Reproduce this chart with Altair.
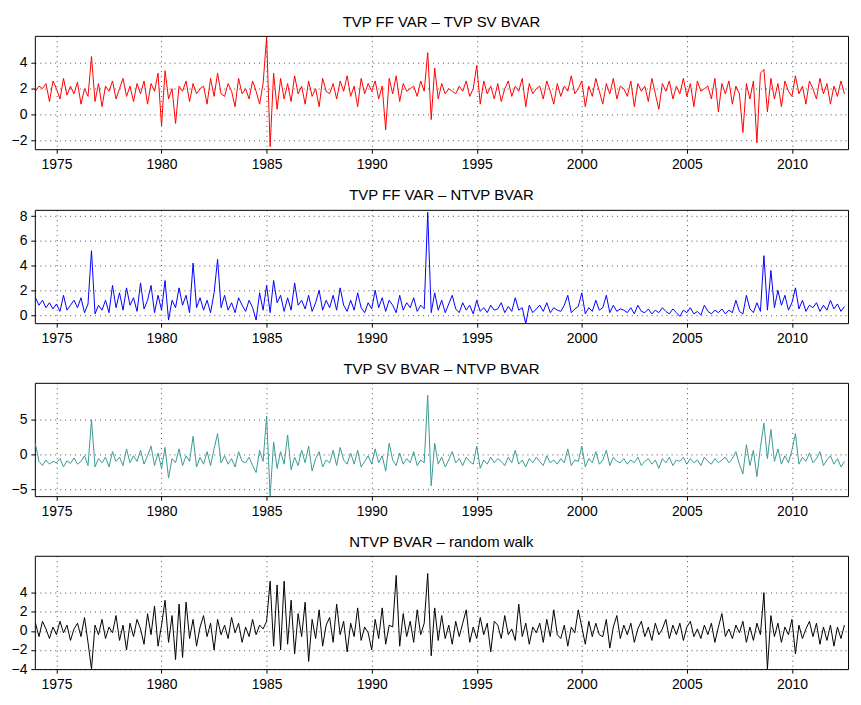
import altair as alt
import pandas as pd

years = list(range(1974, 2013))

# two-monthly readings, 6 per year (2012 has 4)
ff_sv = [
    1.8,2.2,2.0,2.4,1.0,2.6, 2.0,1.2,2.8,1.5,2.2,1.6, 2.5,0.8,2.0,1.4,4.5,1.0,
    2.4,0.6,2.2,1.8,2.6,1.2, 2.0,2.8,1.4,2.2,1.0,2.4, 1.6,2.6,0.8,2.4,1.8,3.2,
    -0.9,3.4,1.2,2.0,-0.7,2.2, 1.8,2.6,1.0,2.4,1.6,2.0, 2.2,0.8,2.8,1.4,3.2,1.6,
    1.4,2.4,1.8,0.6,2.8,1.6, 2.0,1.2,2.6,1.8,0.8,2.4, 6.0,-2.5,3.2,0.4,2.8,1.2,
    2.4,1.0,3.0,1.6,2.2,0.8, 2.6,1.4,2.0,0.6,2.8,1.8, 1.6,2.4,1.2,2.6,1.8,3.0,
    1.4,2.2,0.6,2.8,1.6,2.4, 1.8,2.6,1.2,2.2,-1.2,2.8, 1.6,3.0,1.0,2.4,1.8,2.0,
    2.2,1.4,2.6,1.8,4.8,-0.4, 3.6,1.2,2.4,1.6,2.0,1.8, 1.6,2.2,1.8,2.6,1.4,2.0,
    3.8,0.8,2.6,1.6,2.2,1.2, 2.4,1.0,2.0,2.6,1.4,2.2, 1.8,2.8,0.6,2.4,1.6,2.0,
    2.2,1.2,2.6,1.8,0.8,2.4, 1.4,2.2,1.8,3.0,1.6,2.0, 2.6,0.6,2.2,1.4,2.8,1.8,
    0.8,2.4,1.6,2.8,1.2,2.2, 2.0,1.4,2.6,0.6,2.4,1.8, 2.2,1.0,2.8,1.6,0.4,2.4,
    1.8,2.6,1.2,2.2,1.6,2.8, 1.4,2.4,0.6,2.6,1.8,2.0, 2.2,1.2,2.8,0.2,2.4,1.6,
    2.6,0.8,2.2,1.6,-1.4,2.4, 1.2,2.6,-2.2,3.2,3.5,0.2, 2.8,1.2,2.4,0.6,2.6,1.8,
    1.4,3.0,1.6,2.2,0.8,2.6, 2.0,1.2,2.8,1.6,2.4,0.8, 2.2,1.4,2.6,1.6,
]
ff_ntvp = [
    1.4,0.8,1.2,0.6,1.0,0.5, 0.9,0.3,1.6,0.4,0.8,1.2, 0.6,1.4,0.2,0.9,5.2,0.1,
    0.8,0.4,1.2,0.2,2.4,0.6, 1.8,0.4,2.2,0.8,1.4,0.3, 2.6,0.5,1.2,2.4,0.2,1.6,
    0.4,2.8,-0.4,1.2,0.6,2.2, 0.8,1.6,0.2,4.2,0.6,1.4, 0.4,1.2,0.2,1.8,4.5,0.6,
    1.6,0.4,1.0,0.2,1.4,0.8, 0.3,1.2,0.6,-0.4,1.8,0.4, 2.4,0.2,2.8,1.0,1.6,0.3,
    1.4,0.4,2.6,0.8,1.2,0.5, 1.6,0.3,1.0,2.0,0.4,1.2, 0.6,1.6,0.4,2.2,0.8,0.3,
    1.2,0.4,1.8,0.6,0.2,1.0, 0.5,2.0,0.6,1.4,0.3,1.2, 0.8,0.2,1.6,0.4,1.0,0.6,
    1.4,0.3,0.8,0.5,8.3,0.2, 1.8,0.4,1.2,0.2,0.9,1.6, 0.5,0.2,1.0,0.4,0.8,0.1,
    1.2,0.3,0.6,0.2,0.8,0.4, 0.5,1.0,0.2,0.7,0.3,1.4, 0.4,0.6,-0.7,0.8,0.2,0.5,
    0.8,0.3,1.0,0.2,0.6,0.4, 0.3,0.8,1.6,0.2,0.5,0.7, 1.8,0.1,0.6,0.3,1.2,0.4,
    0.6,1.6,0.2,0.8,0.3,0.5, 0.4,0.2,0.6,0.1,0.8,0.3, 0.2,0.5,0.1,0.4,0.2,0.6,
    0.3,0.1,0.5,0.2,-0.1,0.4, 0.2,0.6,0.1,0.3,0.0,0.8, 0.3,0.1,0.4,0.2,0.5,0.1,
    0.4,0.2,1.2,0.3,0.1,1.6, 0.5,0.2,1.0,0.3,4.8,0.4, 3.6,0.6,2.0,0.8,1.6,0.4,
    1.0,2.2,0.5,1.2,0.3,0.8, 0.6,1.0,0.3,0.8,0.4,1.2, 0.5,0.9,0.3,0.7,
]
sv_ntvp = [
    1.5,-1.0,-1.6,-0.8,-1.4,-1.0, -1.2,-0.6,-1.8,-0.9,-1.3,-0.5, -1.4,-1.0,-0.2,-1.6,5.0,-1.8,
    -0.6,-1.2,-0.4,-1.8,0.4,-1.0, -0.4,-1.6,0.8,-1.2,-0.2,-1.0, 0.6,-1.4,-0.2,1.2,-1.6,0.2,
    -2.0,1.0,-3.4,-0.6,-1.2,0.8, -1.6,-0.2,-1.0,2.6,-1.8,-0.4, -1.4,0.4,-1.6,0.8,3.0,-1.2,
    -0.2,-1.4,-0.6,-1.8,0.4,-1.0, -1.2,-0.4,-1.6,-2.6,0.6,-1.0, 5.5,-6.0,1.8,-2.0,0.4,-1.4,
    2.8,-2.2,-0.4,-1.6,0.6,-1.2, 1.2,-2.4,-0.6,0.4,-1.8,-0.8, -1.2,0.6,-1.6,1.0,-0.8,-1.4,
    0.2,-1.4,0.6,-1.8,-1.0,-0.2, -1.4,0.8,-1.2,-0.2,-2.4,1.6, -0.8,-1.6,0.2,-1.4,-0.6,-1.2,
    0.4,-1.6,-0.8,-1.2,8.5,-4.5, 1.6,-1.4,-0.4,-1.8,-0.8,0.4, -1.2,-0.6,-1.6,-0.4,-1.0,-1.4,
    1.2,-2.0,-0.8,-1.4,-0.4,-1.2, -0.6,-1.0,-1.6,-0.4,-1.2,0.6, -1.4,-0.8,-1.8,-0.6,-1.2,-0.4,
    -1.0,-1.6,-0.2,-1.2,-0.8,-1.4, -0.6,-1.2,0.8,-1.6,-0.8,-1.0, 1.2,-1.8,-0.6,-1.2,0.4,-1.4,
    -0.8,0.6,-1.6,-0.4,-1.0,-1.2, -0.6,-1.4,-0.8,-1.2,-0.4,-1.6, -1.0,-0.6,-1.4,-0.8,-2.0,-0.6,
    -1.2,-0.4,-1.6,-0.8,-1.0,-0.4, -1.4,-0.6,-1.2,-0.8,-1.6,-0.4, -1.0,-1.4,-0.6,-1.2,-0.8,-0.4,
    -1.2,-0.6,0.4,-1.4,-2.8,1.4, -1.6,0.6,-3.2,1.0,4.5,-0.6, 3.6,-1.0,0.8,-1.4,-0.2,-1.2,
    0.6,3.0,-1.4,-0.4,-1.0,0.2, -1.2,-0.6,0.4,-1.6,-0.8,-0.2, -1.4,-0.6,-1.8,-1.0,
]
ntvp_rw = [
    0.8,-0.6,1.0,0.2,-0.8,0.4, -0.4,1.0,-0.2,0.6,-1.0,0.2, 0.8,-0.6,1.4,-1.2,-4.0,0.6,
    -0.4,1.2,-0.8,0.4,-0.2,1.6, -1.0,0.6,-2.0,0.8,-0.6,1.2, 0.2,-1.4,1.8,-0.4,2.6,-1.6,
    0.6,3.2,-1.2,1.6,-3.0,2.8, -2.8,3.0,-0.8,1.2,-1.6,0.4, 1.6,-0.6,0.8,-2.0,1.2,-0.4,
    0.6,-0.8,1.4,-0.2,0.8,-1.2, 0.4,-0.6,1.2,-0.4,0.6,0.2, 1.0,5.2,-1.6,4.8,-2.0,5.2,
    -1.4,3.2,-2.4,1.8,-0.6,3.0, -3.2,1.2,-0.8,2.2,-1.6,0.6, 1.4,-1.2,2.8,-0.4,1.0,-2.2,
    0.8,-0.6,2.4,-1.0,0.4,-0.2, -2.0,1.2,-0.8,2.4,-1.4,0.6, 0.4,5.8,-1.6,1.8,-0.6,1.0,
    -1.2,2.2,-0.4,0.8,6.0,-2.6, 2.4,-1.0,1.6,-0.8,0.6,-1.4, 1.0,-0.6,0.8,2.2,-1.2,0.4,
    -0.8,1.4,-0.4,0.8,-2.2,1.0, 0.6,-0.8,1.6,-0.4,0.2,-1.0, 2.8,-0.6,0.8,-1.4,0.4,-0.2,
    0.8,-1.2,1.2,-0.6,2.2,-0.4, -0.8,0.6,-1.6,0.4,-0.2,2.2, 0.4,-1.4,1.0,-0.6,0.8,-0.4,
    -0.6,1.2,-1.8,0.4,1.6,-0.8, 0.6,-0.4,0.8,-1.2,0.2,1.0, -0.6,0.4,-1.0,0.8,-0.4,0.2,
    1.2,-0.8,0.6,-0.4,0.8,-1.0, 0.4,1.0,-0.6,0.2,-0.8,0.6, -0.4,0.8,-1.2,0.4,1.8,-0.6,
    0.2,-0.8,0.6,-0.2,1.0,-1.2, 0.4,-1.0,0.8,-0.4,4.0,-4.0, 1.6,-0.6,0.8,-1.2,0.4,-0.4,
    1.2,-2.4,0.6,-0.8,0.2,1.0, -0.6,0.8,-1.4,0.4,-1.0,0.6, -1.6,0.4,-0.8,0.6,
]

panels = [
    ("TVP FF VAR \u2013 TVP SV BVAR", ff_sv, "#ff0000", [-2.7, 6.1], [-2, 0, 2, 4]),
    ("TVP FF VAR \u2013 NTVP BVAR", ff_ntvp, "#0000ff", [-0.65, 8.5], [0, 2, 4, 6, 8]),
    ("TVP SV BVAR \u2013 NTVP BVAR", sv_ntvp, "#3a9a94", [-6, 10.3], [-5, 0, 5]),
    ("NTVP BVAR \u2013 random walk", ntvp_rw, "#000000", [-4, 7.85], [-4, -2, 0, 2, 4]),
]

charts = []
for title, vals, color, dom, yt in panels:
    t = [y + i / 6 for y in years for i in range(6)][:len(vals)]
    df = pd.DataFrame({"t": t, "v": vals})
    c = alt.Chart(df, title=alt.Title(title, fontSize=15, fontWeight="normal",
                                       font="Liberation Sans", offset=6)).mark_line(
        color=color, strokeWidth=1, clip=True
    ).encode(
        x=alt.X("t:Q", scale=alt.Scale(domain=[1973.97, 2012.67], nice=False, zero=False),
                axis=alt.Axis(values=list(range(1975, 2011, 5)), format="d", title=None)),
        y=alt.Y("v:Q", scale=alt.Scale(domain=dom, nice=False, zero=False),
                axis=alt.Axis(values=yt, title=None)),
    ).properties(width=818, height=114)
    charts.append(c)

chart = alt.vconcat(*charts, spacing=15).configure_view(
    stroke="black", strokeWidth=1
).configure_axis(
    grid=True, gridColor="#000000", gridDash=[1, 4], gridOpacity=0.7,
    domain=False, ticks=True, tickSize=4, tickColor="black",
    labelFont="Liberation Sans", labelFontSize=14, labelColor="black", labelPadding=4
).properties(padding={"left": 2, "top": 4, "right": 4, "bottom": 2})

chart.save("out.html", embed_options={"renderer": "svg", "actions": False})
